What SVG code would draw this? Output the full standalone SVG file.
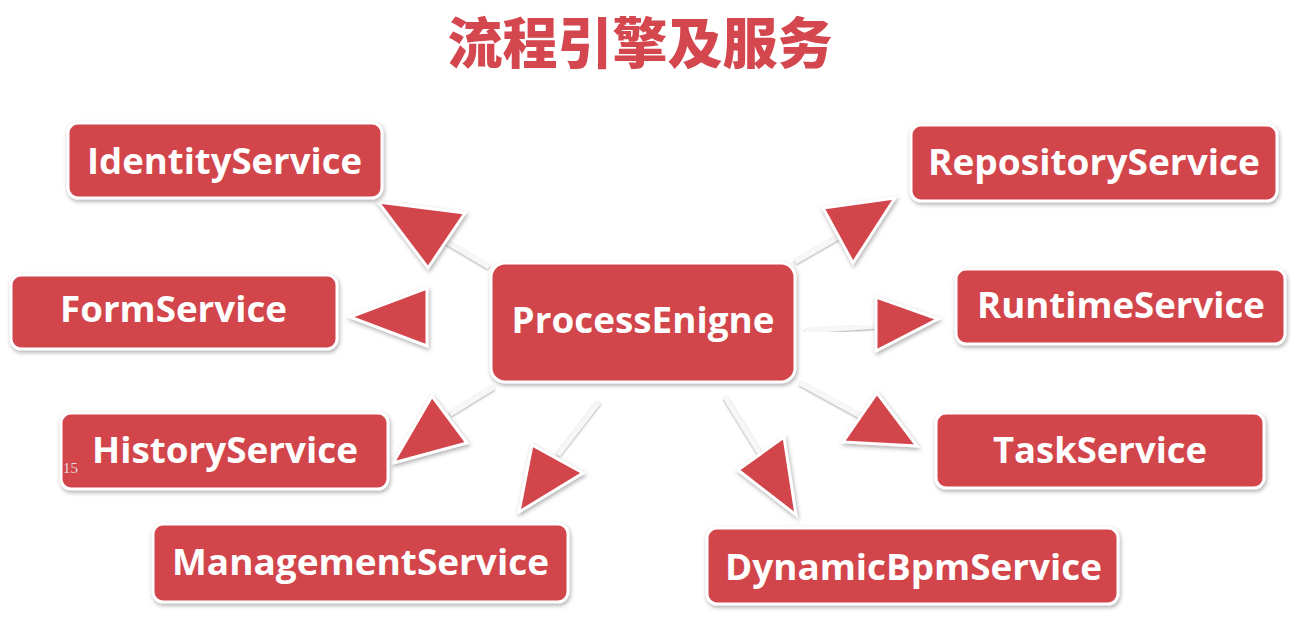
<svg xmlns="http://www.w3.org/2000/svg" width="1293" height="620" viewBox="0 0 1293 620">
<defs>
<filter id="sh" x="-20%" y="-20%" width="140%" height="150%">
<feDropShadow dx="1" dy="2" stdDeviation="2" flood-color="#777" flood-opacity="0.6"/>
</filter>
<filter id="lsh" x="-20%" y="-20%" width="140%" height="140%">
<feDropShadow dx="0" dy="1" stdDeviation="1.3" flood-color="#888" flood-opacity="0.75"/>
</filter>
</defs>
<style>
.box{fill:#D2454C;stroke:#fff;stroke-width:3;filter:url(#sh)}
.lbl{font-family:"Open Sans","Noto Sans","Liberation Sans",sans-serif;font-weight:700;font-size:36px;fill:#fff;text-anchor:middle}
.ln{stroke:#f7f7f7;stroke-width:5;stroke-linecap:butt;filter:url(#lsh)}
.hd{fill:#D2454C;stroke:#fff;stroke-width:3;stroke-linejoin:miter;filter:url(#sh)}
.title{font-family:"Noto Sans CJK SC","Noto Sans CJK JP",sans-serif;font-weight:900;font-size:55px;fill:#D4474E;text-anchor:middle}
</style>
<rect width="1293" height="620" fill="#fff"/>
<text class="title" x="640" y="63">流程引擎及服务</text>
<g id="connectors">
<line class="ln" x1="489" y1="267" x2="445" y2="241"/>
<polygon class="hd" points="378,202 465,213 428,268"/>
<line class="ln" x1="489" y1="320" x2="425" y2="320"/>
<polygon class="hd" points="350,317 427,288 427,346"/>
<line class="ln" x1="494" y1="387" x2="450" y2="414"/>
<polygon class="hd" points="432,396 467,443 393,463"/>
<line class="ln" x1="599" y1="402" x2="558" y2="455"/>
<polygon class="hd" points="532,445 583,473 519,512"/>
<line class="ln" x1="725" y1="397" x2="762" y2="457"/>
<polygon class="hd" points="738,470 784,437 796,515"/>
<line class="ln" x1="800" y1="383" x2="862" y2="417"/>
<polygon class="hd" points="877,393 843,442 917,446"/>
<line class="ln" x1="805" y1="331" x2="878" y2="326"/>
<polygon class="hd" points="876,297 876,351 938,319"/>
<line class="ln" x1="795" y1="262" x2="842" y2="235"/>
<polygon class="hd" points="823,208 853,263 895,198"/>
</g>
<g id="ProcessEnigne">
<rect class="box" x="491" y="263" width="304" height="119" rx="14"/>
<text class="lbl" x="643" y="333" textLength="263" lengthAdjust="spacingAndGlyphs">ProcessEnigne</text>
</g>
<g id="IdentityService">
<rect class="box" x="68" y="123" width="314" height="75" rx="10"/>
<text class="lbl" x="224.5" y="174" textLength="275" lengthAdjust="spacingAndGlyphs">IdentityService</text>
</g>
<g id="FormService">
<rect class="box" x="11" y="275" width="326" height="74" rx="10"/>
<text class="lbl" x="173.5" y="322" textLength="227" lengthAdjust="spacingAndGlyphs">FormService</text>
</g>
<g id="HistoryService">
<rect class="box" x="61" y="413" width="327" height="76" rx="10"/>
<text class="lbl" x="225" y="463" textLength="266" lengthAdjust="spacingAndGlyphs">HistoryService</text>
<text x="63" y="473" font-family="Liberation Serif,serif" font-size="15" fill="#ddd">15</text>
</g>
<g id="ManagementService">
<rect class="box" x="153" y="524" width="415" height="78" rx="10"/>
<text class="lbl" x="360.5" y="575" textLength="377" lengthAdjust="spacingAndGlyphs">ManagementService</text>
</g>
<g id="DynamicBpmService">
<rect class="box" x="707" y="528" width="411" height="76" rx="10"/>
<text class="lbl" x="913.5" y="580" textLength="377" lengthAdjust="spacingAndGlyphs">DynamicBpmService</text>
</g>
<g id="RepositoryService">
<rect class="box" x="911" y="125" width="366" height="76" rx="10"/>
<text class="lbl" x="1094" y="175" textLength="332" lengthAdjust="spacingAndGlyphs">RepositoryService</text>
</g>
<g id="RuntimeService">
<rect class="box" x="956" y="269" width="329" height="75" rx="10"/>
<text class="lbl" x="1121" y="318" textLength="288" lengthAdjust="spacingAndGlyphs">RuntimeService</text>
</g>
<g id="TaskService">
<rect class="box" x="936" y="413" width="328" height="75" rx="10"/>
<text class="lbl" x="1100" y="463" textLength="214" lengthAdjust="spacingAndGlyphs">TaskService</text>
</g>
</svg>
